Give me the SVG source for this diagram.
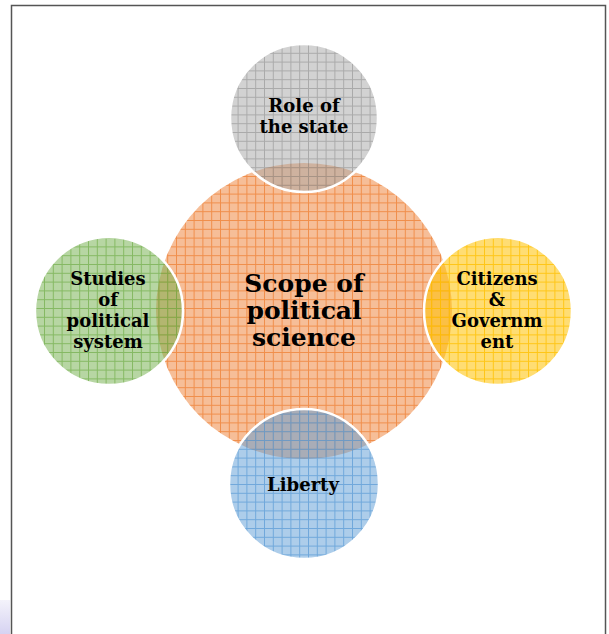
<svg xmlns="http://www.w3.org/2000/svg" width="609" height="634" viewBox="0 0 609 634">
<defs>
<linearGradient id="lav" x1="0" y1="0" x2="0" y2="1">
<stop offset="0" stop-color="#f4f3fb"/>
<stop offset="1" stop-color="#d6d3f2"/>
</linearGradient>
<pattern id="pOrange" patternUnits="userSpaceOnUse" width="8.8" height="8.8">
<rect width="8.8" height="8.8" fill="#ED7D31" fill-opacity="0.5"/>
<path d="M0 0.5H8.8M0.5 0V8.8" stroke="#ED7D31" stroke-opacity="0.75" stroke-width="1" fill="none"/>
</pattern>
<pattern id="pGray" patternUnits="userSpaceOnUse" width="8.8" height="8.8">
<rect width="8.8" height="8.8" fill="#A5A5A5" fill-opacity="0.5"/>
<path d="M0 0.5H8.8M0.5 0V8.8" stroke="#8f8f8f" stroke-opacity="0.6" stroke-width="1" fill="none"/>
</pattern>
<pattern id="pGreen" patternUnits="userSpaceOnUse" width="8.8" height="8.8">
<rect width="8.8" height="8.8" fill="#70AD47" fill-opacity="0.5"/>
<path d="M0 0.5H8.8M0.5 0V8.8" stroke="#70AD47" stroke-opacity="0.7" stroke-width="1" fill="none"/>
</pattern>
<pattern id="pYellow" patternUnits="userSpaceOnUse" width="8.8" height="8.8">
<rect width="8.8" height="8.8" fill="#FFC000" fill-opacity="0.55"/>
<path d="M0 0.5H8.8M0.5 0V8.8" stroke="#FFC000" stroke-opacity="0.8" stroke-width="1" fill="none"/>
</pattern>
<pattern id="pBlue" patternUnits="userSpaceOnUse" width="8.8" height="8.8">
<rect width="8.8" height="8.8" fill="#5B9BD5" fill-opacity="0.5"/>
<path d="M0 0.5H8.8M0.5 0V8.8" stroke="#5B9BD5" stroke-opacity="0.75" stroke-width="1" fill="none"/>
</pattern>
</defs>
<style>
.lbl{font-family:"DejaVu Serif","Liberation Serif",serif;font-weight:bold;fill:#000;text-anchor:middle}
.sm{font-size:18px}
.big{font-size:25px}
.sat{stroke:#ffffff;stroke-width:2.5}
</style>
<rect width="609" height="634" fill="#ffffff"/>
<rect x="0" y="600" width="10" height="34" fill="url(#lav)"/>
<rect x="11.5" y="5.5" width="594" height="650" fill="none" stroke="#555555" stroke-width="1.5"/>
<g id="connectors"/>
<g id="center">
<circle cx="304" cy="311" r="148" fill="url(#pOrange)"/>
<text class="lbl big" x="304" y="292">Scope of</text>
<text class="lbl big" x="304" y="319">political</text>
<text class="lbl big" x="304" y="346">science</text>
</g>
<g id="role">
<circle class="sat" cx="304" cy="118" r="74" fill="url(#pGray)"/>
<text class="lbl sm" x="304" y="112">Role of</text>
<text class="lbl sm" x="304" y="133">the state</text>
</g>
<g id="studies">
<circle class="sat" cx="109" cy="311" r="74" fill="url(#pGreen)"/>
<text class="lbl sm" x="108" y="285">Studies</text>
<text class="lbl sm" x="108" y="306">of</text>
<text class="lbl sm" x="108" y="327">political</text>
<text class="lbl sm" x="108" y="348">system</text>
</g>
<g id="citizens">
<circle class="sat" cx="498" cy="311" r="74" fill="url(#pYellow)"/>
<text class="lbl sm" x="497" y="285">Citizens</text>
<text class="lbl sm" x="497" y="306">&amp;</text>
<text class="lbl sm" x="497" y="327">Governm</text>
<text class="lbl sm" x="497" y="348">ent</text>
</g>
<g id="liberty">
<circle class="sat" cx="304" cy="484" r="75" fill="url(#pBlue)"/>
<text class="lbl sm" x="303" y="491">Liberty</text>
</g>
</svg>
